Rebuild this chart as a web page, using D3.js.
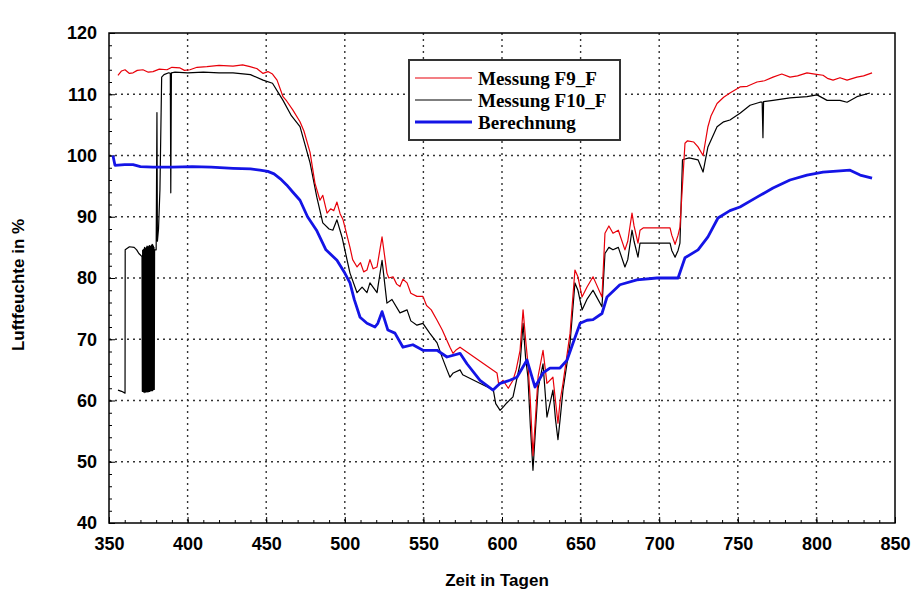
<!DOCTYPE html>
<html>
<head>
<meta charset="utf-8">
<script src="https://cdn.jsdelivr.net/npm/d3@7"></script>
<style>
    body { margin: 0; background: #fff; }
    .tick text { font-family: "Liberation Sans", Arial, sans-serif; font-weight: bold; font-size: 18px; fill: #000; }
    .aText { font-family: "Liberation Sans", Arial, sans-serif; font-weight: bold; font-size: 17px; }
    .legendText { font-family: "Liberation Serif", "Times New Roman", serif; font-weight: bold; font-size: 19px; }
</style>
</head>
<body>
<div id="chart"></div>
<script>
// Axis ticks
var xTicks = [350, 400, 450, 500, 550, 600, 650, 700, 750, 800, 850];
var yTicks = [40, 50, 60, 70, 80, 90, 100, 110, 120];

var seriesNames = ["Messung F9_F", "Messung F10_F", "Berechnung"];

// [day, relative humidity]
var messungF9 = [[355.7,113.1],[358,113.8],[360.2,114],[363,113.4],[365.3,113.5],[368,113.9],[371.6,114],[375,113.6],[378,113.7],[382,114.1],[386.9,114],[390,114.4],[395.2,114.3],[398,113.9],[401.5,114],[406,114.4],[412.3,114.5],[420,114.7],[428.9,114.6],[435,114.8],[439.7,114.5],[444,114.2],[448,113.4],[451.1,113.7],[454,113.3],[456.9,112.3],[460.7,109.6],[463,108.9],[467,107.4],[471.5,105.5],[474,104],[477.9,100.5],[481,95.5],[484.2,92.7],[486,93.5],[488.7,90.6],[491,91.3],[493,91],[495,92.4],[497,90.5],[498.9,89.5],[503.3,85],[505,83],[507.8,81.8],[510,82.5],[512,81],[514.1,81.3],[516,83],[518,81.5],[520.5,81.8],[523.7,86.7],[526.8,80.8],[528,80],[530.7,80.2],[533,79],[535.1,78.6],[537,79.8],[539.6,79.2],[542,77.5],[545.9,77],[549.7,77],[552,75.5],[555,74.8],[558.7,73.1],[562,71.5],[566.9,68.7],[568.8,67.7],[571,68.3],[573.3,68.7],[596.8,64.5],[598,62.5],[600.6,63.3],[604,62],[607,63.3],[609,65],[611.5,68.2],[613.4,74.8],[615,70],[616.5,66],[618,60],[619.7,51],[621,56],[623,64],[626.1,68.2],[628.6,62.8],[632.4,63.8],[634,60],[635.6,56.3],[637,60],[638.8,62.8],[643.3,71],[646.4,81.3],[648.3,80.2],[650.9,76.9],[654,78.5],[657.9,80.2],[660,79],[663.6,76.9],[665.5,87.3],[668,88.5],[670.6,87.3],[674,87.8],[678.2,84.6],[680,86],[682.7,90.6],[684,88.5],[686.5,85.7],[687.8,87.8],[690,88.2],[706.9,88.2],[708,87],[710.1,85.5],[712,87],[713.2,88.3],[716.4,102],[718,102.4],[722,102.2],[724.7,101.4],[727.9,100],[731,104.7],[733,106.5],[736.8,108.5],[741,109.5],[745,110.2],[751.4,111.2],[756,111.3],[762.2,112],[767,112.2],[772.4,112.8],[778,113.3],[783.2,112.8],[788,113],[794,113.5],[799,113.3],[804.2,113.1],[807,112.6],[810.6,112.3],[815,112.7],[819.5,112.3],[825.8,112.8],[830,113],[835.4,113.5]];

var messungF10 = [[355.7,61.7],[358,61.5],[360.2,61.2],[360.3,84.6],[363,85.1],[366,85],[367.6,84.6],[369,84],[371,83.5],[371.2,61.5],[371.4,84.5],[371.6,61.5],[371.8,84.6],[372,61.4],[372.2,84.7],[372.4,61.5],[372.6,85],[372.8,61.3],[373,84.9],[373.2,61.4],[373.4,84.8],[373.6,61.5],[373.8,85],[374,61.4],[374.2,85.2],[374.4,61.5],[374.6,85.1],[374.8,61.4],[375,85],[375.2,61.5],[375.4,85.2],[375.6,61.5],[375.8,85.3],[376,61.5],[376.2,85.2],[376.4,61.6],[376.6,85],[376.8,61.6],[377,85.3],[377.2,61.6],[377.4,85.5],[377.6,61.6],[377.8,85.4],[378,61.7],[378.2,85.2],[378.4,61.8],[378.6,85],[378.8,61.8],[379,84.6],[380,84.6],[380.5,107],[380.8,86],[381.5,88],[382.4,94.4],[383.5,112.8],[385,113.2],[388,113.5],[389,113.4],[389.3,93.9],[389.7,113.5],[392,113.6],[400,113.5],[410,113.6],[420,113.5],[428.9,113.5],[440,113.2],[448,112.3],[454,111.8],[460.7,109],[466,106.5],[471.5,104.7],[475,101.5],[477.9,98.8],[482.2,93.2],[486,89],[490,88],[492.4,87.8],[495,89.5],[498.2,86.7],[503.3,80.8],[507.8,77.6],[511,78.5],[514.1,77.6],[516,79.2],[520.5,77.6],[523.7,82.9],[526.8,75.9],[530,76.5],[535.1,74.3],[539.6,74.8],[542,73],[545.9,72.3],[549.7,72.6],[554,71],[558.7,69.4],[562,67],[565,65],[566.9,63.8],[569,64.5],[573.3,65],[575,64.2],[594.5,61.7],[596,59.5],[598.8,58.4],[601,59],[603,59.6],[607,60.6],[609,63],[611.5,66],[613.4,72.6],[615,67],[616.5,63.8],[618,56],[619.7,48.6],[621,54],[623,62],[626.1,66],[628.6,57.3],[632.4,61.7],[634,57],[635.6,53.6],[637,57],[638.8,61.7],[643.3,69.4],[646.4,79.2],[648.3,78],[651,74.8],[654,76.5],[657.9,78],[660,77],[663.6,75.3],[665.5,84],[668,85],[670.6,84.6],[674,85],[678.2,81.8],[680,83],[682.7,87.8],[684,86],[686.5,83.4],[687.8,85.7],[706.9,85.7],[708,84.5],[710.1,83.4],[712,84.5],[713.2,85.7],[714.8,99.3],[719,99.6],[724.7,99.3],[727.9,97.3],[731,101.4],[736.8,104.7],[741,105.5],[745,105.8],[751.4,106.9],[757.8,108.2],[764.1,108.7],[765.5,108.7],[766,102.9],[766.4,108.8],[772.4,109],[783.2,109.4],[794,109.6],[800.4,109.9],[806.8,109],[815,109],[819.5,108.7],[825.8,109.6],[834,110.2]];

var berechnung = [[352.5,100],[353.8,98.4],[360,98.5],[365.3,98.5],[370,98.2],[378,98.1],[390,98.1],[403,98.2],[415,98.1],[428.9,97.9],[440,97.8],[446,97.6],[451,97.4],[455,97],[459,96.2],[463,95.2],[467,94],[471.5,92.7],[476.3,90],[482,87.8],[488,84.6],[495,82.9],[500,80.8],[503.3,79.2],[506,76.5],[509.7,73.6],[514.1,72.6],[519.2,72],[521,72.6],[523.7,74.5],[527.4,71.5],[531.9,71],[537,68.7],[543.3,69.1],[549.7,68.2],[558.7,68.2],[565,67.1],[573.3,67.7],[577.7,66],[586,63.3],[594.3,61.7],[598.8,62.8],[605,63.3],[609.5,63.8],[615.9,66.6],[621,62.2],[626.1,64.5],[630.5,65.3],[636.9,65.3],[641.4,66.6],[645.2,69.4],[649.7,72.6],[654.1,73.1],[657.9,73.2],[663.6,74.2],[666.8,76.9],[675,78.9],[685.8,79.7],[698.5,80],[712,80],[716.4,83.3],[724.7,84.6],[731,86.7],[737.4,89.8],[745,91],[751.4,91.6],[762.2,93.2],[772.4,94.7],[783.2,96],[794,96.8],[804.2,97.3],[815,97.5],[821.4,97.6],[827.8,96.8],[835.4,96.3]];

var svgWidth = 912;
var svgHeight = 592;
var margin = { top: 33, right: 17, bottom: 69, left: 109 };
var chartWidth = svgWidth - margin.left - margin.right;
var chartHeight = svgHeight - margin.top - margin.bottom;

var svg = d3.select("#chart").append("svg")
    .attr("width", svgWidth)
    .attr("height", svgHeight);

var chartGroup = svg.append("g")
    .attr("transform", `translate(${margin.left}, ${margin.top})`);

var xLinearScale = d3.scaleLinear().domain([350, 850]).range([0, chartWidth]);
var yLinearScale = d3.scaleLinear().domain([40, 120]).range([chartHeight, 0]);

// dotted grid
chartGroup.append("g").selectAll("line")
    .data(xTicks.slice(1, -1))
    .enter().append("line")
    .attr("x1", d => xLinearScale(d)).attr("x2", d => xLinearScale(d))
    .attr("y1", 0).attr("y2", chartHeight)
    .attr("stroke", "#333").attr("stroke-width", 1.4).attr("stroke-dasharray", "2,4");

chartGroup.append("g").selectAll("line")
    .data(yTicks.slice(1, -1))
    .enter().append("line")
    .attr("y1", d => yLinearScale(d)).attr("y2", d => yLinearScale(d))
    .attr("x1", 0).attr("x2", chartWidth)
    .attr("stroke", "#333").attr("stroke-width", 1.4).attr("stroke-dasharray", "2,4");

// minor ticks (inside)
chartGroup.append("g")
    .attr("transform", `translate(0, ${chartHeight})`)
    .call(d3.axisBottom(xLinearScale).ticks(50).tickSize(-3).tickFormat(""))
    .call(g => g.select(".domain").remove());
chartGroup.append("g")
    .call(d3.axisLeft(yLinearScale).ticks(40).tickSize(-3).tickFormat(""))
    .call(g => g.select(".domain").remove());

// major ticks and labels
chartGroup.append("g")
    .attr("transform", `translate(0, ${chartHeight})`)
    .call(d3.axisBottom(xLinearScale).tickValues(xTicks).tickSizeInner(-6).tickSizeOuter(0).tickPadding(14))
    .call(g => g.select(".domain").remove());
chartGroup.append("g")
    .call(d3.axisLeft(yLinearScale).tickValues(yTicks).tickSizeInner(-6).tickSizeOuter(0).tickPadding(12))
    .call(g => g.select(".domain").remove());

// frame
chartGroup.append("rect")
    .attr("width", chartWidth).attr("height", chartHeight)
    .attr("fill", "none").attr("stroke", "#000").attr("stroke-width", 1.5);

var line = d3.line()
    .x(d => xLinearScale(d[0]))
    .y(d => yLinearScale(d[1]));

var seriesData = [messungF9, messungF10, berechnung];
var seriesColors = ["#e8000a", "#000", "#1414e6"];
var seriesWidths = [1.2, 1.2, 2.8];

[1, 0, 2].forEach(function (i) {
    chartGroup.append("path")
        .datum(seriesData[i])
        .attr("d", line)
        .attr("fill", "none")
        .attr("stroke", seriesColors[i])
        .attr("stroke-width", seriesWidths[i])
        .attr("stroke-linejoin", "round");
});

// legend
var legend = svg.append("g").attr("transform", "translate(409, 60)");
legend.append("rect")
    .attr("width", 211).attr("height", 80)
    .attr("fill", "#fff").attr("stroke", "#333").attr("stroke-width", 2);

seriesNames.forEach(function (name, i) {
    var y = 18 + i * 22;
    legend.append("line")
        .attr("x1", 6).attr("x2", 63).attr("y1", y).attr("y2", y)
        .attr("stroke", seriesColors[i]).attr("stroke-width", seriesWidths[i]);
    legend.append("text")
        .attr("x", 69).attr("y", y)
        .attr("dy", "0.35em")
        .classed("legendText", true)
        .text(name);
});

// axis titles
svg.append("text")
    .attr("x", margin.left + chartWidth / 2 - 5)
    .attr("y", 586)
    .attr("text-anchor", "middle")
    .classed("aText", true)
    .text("Zeit in Tagen");

svg.append("text")
    .attr("transform", "rotate(-90)")
    .attr("x", -285)
    .attr("y", 24)
    .attr("text-anchor", "middle")
    .classed("aText", true)
    .text("Luftfeuchte in %");
</script>
</body>
</html>
